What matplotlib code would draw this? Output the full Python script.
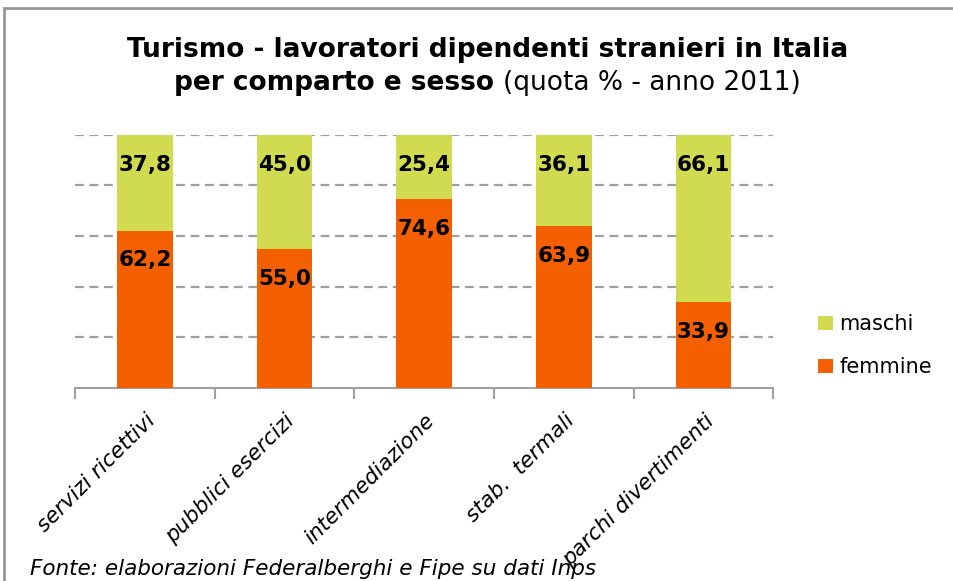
import numpy as np
import matplotlib.pyplot as plt
from matplotlib.patches import Rectangle

categories = ["servizi ricettivi", "pubblici esercizi", "intermediazione",
              "stab.  termali", "parchi divertimenti"]
femmine = [62.2, 55.0, 74.6, 63.9, 33.9]
maschi = [37.8, 45.0, 25.4, 36.1, 66.1]

orange = "#F46000"
green = "#D1DB50"
grid_gray = "#A0A0A0"

fig = plt.figure(figsize=(9.54, 5.81), dpi=100)
ax = fig.add_axes([0.0786, 0.332, 0.732, 0.436])

x = np.arange(len(categories))
b1 = ax.bar(x, femmine, width=0.4, color=orange, label="femmine", zorder=3)
b2 = ax.bar(x, maschi, width=0.4, bottom=femmine, color=green, label="maschi", zorder=3)

# labels near the top of each segment
for i in range(len(categories)):
    ax.text(x[i], femmine[i] - 11.8, f"{femmine[i]:.1f}".replace(".", ","),
            ha="center", va="center", fontsize=15.5, fontweight="bold", zorder=4)
    ax.text(x[i], 100 - 11.8, f"{maschi[i]:.1f}".replace(".", ","),
            ha="center", va="center", fontsize=15.5, fontweight="bold", zorder=4)

ax.set_xlim(-0.5, len(categories) - 0.5)
ax.set_ylim(0, 100)
ax.set_yticks([20, 40, 60, 80, 100])
ax.yaxis.grid(True, linestyle=(0, (4, 2.5)), color=grid_gray, linewidth=1.6, zorder=0)
ax.tick_params(axis="y", left=False, labelleft=False)
for s in ["left", "right", "top"]:
    ax.spines[s].set_visible(False)
ax.spines["bottom"].set_color(grid_gray)
ax.spines["bottom"].set_linewidth(1.5)

ax.set_xticks(np.arange(-0.5, len(categories), 1.0))
ax.set_xticklabels([])
ax.tick_params(axis="x", direction="out", length=8, color=grid_gray, width=1.5)
ax.set_xticks(x, minor=True)
ax.set_xticklabels(categories, minor=True, rotation=45, ha="right",
                   rotation_mode="anchor", fontsize=15.5, style="italic")
ax.tick_params(axis="x", which="minor", length=0, pad=16)

handles = [b2, b1]
leg = fig.legend(handles, ["maschi", "femmine"], loc="center left",
                 bbox_to_anchor=(0.838, 0.405), frameon=False, fontsize=15,
                 handlelength=0.7, handleheight=0.7, handletextpad=0.3,
                 labelspacing=1.1)

fig.text(0.511, 0.914, "Turismo - lavoratori dipendenti stranieri in Italia",
         ha="center", va="center", fontsize=19, fontweight="bold")
fig.text(0.527, 0.857, "per comparto e sesso ", ha="right", va="center",
         fontsize=19, fontweight="bold")
fig.text(0.527, 0.857, "(quota % - anno 2011)", ha="left", va="center", fontsize=19)

fig.text(0.031, 0.02, "Fonte: elaborazioni Federalberghi e Fipe su dati Inps",
         ha="left", va="center", fontsize=15.5, style="italic")

fig.patches.append(Rectangle((4 / 954, -0.1), 1.2, 1 - 8 / 581 + 0.1,
                             transform=fig.transFigure, fill=False,
                             edgecolor="#999999", linewidth=2))

fig.savefig("out.png", dpi=100)
